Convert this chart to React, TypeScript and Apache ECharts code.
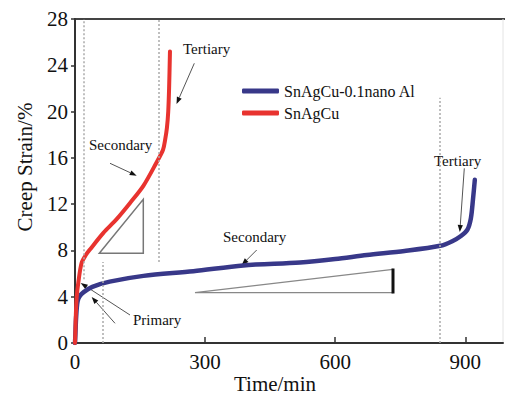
import React, { useEffect, useRef } from "react";
import * as echarts from "echarts";

const seriesNames = ["SnAgCu-0.1nano Al", "SnAgCu"];
const seriesColors = ["#383889", "#e8332f"];

// SnAgCu-0.1nano Al (time in min, strain in %)
const nanoAlTime = [0, 1, 2, 4, 6, 10, 20, 40, 80, 158, 273, 388, 519, 600, 673, 760, 842, 870, 890, 905, 913, 918, 922];
const nanoAlStrain = [0, 0.8, 1.8, 3.0, 3.6, 4.0, 4.4, 4.85, 5.3, 5.8, 6.2, 6.7, 6.95, 7.25, 7.6, 7.95, 8.4, 8.8, 9.25, 9.8, 10.8, 12.5, 14.1];

// SnAgCu
const snAgCuTime = [0, 1, 2, 4, 7.6, 15, 25, 35, 65, 96, 127, 158, 188, 203, 208, 212, 215, 217, 219];
const snAgCuStrain = [0, 1.2, 2.5, 4.0, 5.2, 6.9, 7.6, 8.1, 9.5, 10.7, 12.1, 13.6, 15.6, 16.7, 17.6, 18.6, 20.0, 22.0, 25.2];

const xTickValues = [0, 300, 600, 900];
const xMax = 987;
const yMax = 28;
const yInterval = 4;

// dotted guide lines
const guideX = [21, 192, 64, 842];
const guideYFrom = [5.5, 7, 0, 0];
const guideYTo = [28, 28, 7, 21.2];

const SERIF = "Liberation Serif";

function arrow(x1: number, y1: number, x2: number, y2: number) {
  const dx = x2 - x1;
  const dy = y2 - y1;
  const len = Math.sqrt(dx * dx + dy * dy);
  const ux = dx / len;
  const uy = dy / len;
  const hl = 7;
  const hw = 2.6;
  const bx = x2 - ux * hl;
  const by = y2 - uy * hl;
  return [
    { type: "line", shape: { x1, y1, x2: bx, y2: by }, style: { stroke: "#555", lineWidth: 1 }, silent: true },
    {
      type: "polygon",
      shape: { points: [[x2, y2], [bx - uy * hw, by + ux * hw], [bx + uy * hw, by - ux * hw]] },
      style: { fill: "#111" },
      silent: true,
    },
  ];
}

function label(text: string, x: number, y: number, size = 15) {
  return {
    type: "text",
    x,
    y,
    style: { text, fill: "#111", fontFamily: SERIF, fontSize: size, align: "left", verticalAlign: "middle" },
    silent: true,
  };
}

export default function App() {
  const ref = useRef<HTMLDivElement>(null);

  useEffect(() => {
    if (!ref.current) return;
    const chart = echarts.init(ref.current, null, { renderer: "svg" });

    const nanoAlData = nanoAlTime.map((t, i) => [t, nanoAlStrain[i]]);
    const snAgCuData = snAgCuTime.map((t, i) => [t, snAgCuStrain[i]]);

    const guideLines = guideX.map((x, i) => [{ coord: [x, guideYFrom[i]] }, { coord: [x, guideYTo[i]] }]);

    const graphics: any[] = [
      { type: "line", shape: { x1: 74, y1: 19, x2: 505, y2: 19 }, style: { stroke: "#444", lineWidth: 2 }, silent: true },
      { type: "line", shape: { x1: 503, y1: 19, x2: 503, y2: 343 }, style: { stroke: "#e4e4e4", lineWidth: 1 }, silent: true },
      {
        type: "text",
        x: 25,
        y: 167,
        rotation: Math.PI / 2,
        style: { text: "Creep Strain/%", fill: "#111", fontFamily: SERIF, fontSize: 21, align: "center", verticalAlign: "middle" },
        silent: true,
      },
      {
        type: "text",
        x: 275,
        y: 384,
        style: { text: "Time/min", fill: "#111", fontFamily: SERIF, fontSize: 21, align: "center", verticalAlign: "middle" },
        silent: true,
      },
      {
        type: "polygon",
        shape: { points: [[99.3, 253.3], [143.3, 253.3], [143.3, 199.3]] },
        style: { fill: "none", stroke: "#777", lineWidth: 1.5 },
        silent: true,
      },
      {
        type: "polyline",
        shape: { points: [[393, 269.3], [195, 292.7], [393, 292.7]] },
        style: { fill: "none", stroke: "#888", lineWidth: 1.2 },
        silent: true,
      },
      { type: "line", shape: { x1: 393, y1: 268.5, x2: 393, y2: 293.5 }, style: { stroke: "#111", lineWidth: 3 }, silent: true },
      label("Tertiary", 183, 49),
      label("Secondary", 89, 145),
      label("Secondary", 223, 237),
      label("Tertiary", 434, 161),
      label("Primary", 133, 320),
      ...arrow(194.3, 63.3, 176.5, 104),
      ...arrow(110, 163.3, 136.7, 175.7),
      ...arrow(256.7, 250, 241.7, 265),
      ...arrow(464.3, 168.3, 459.8, 232),
      ...arrow(130, 315, 80.7, 283),
      ...arrow(115, 323.3, 91.7, 297),
    ];

    chart.setOption({
      animation: false,
      backgroundColor: "#fff",
      grid: { left: 75, right: 2, top: 19, bottom: 53, containLabel: false },
      legend: {
        orient: "vertical",
        left: 237,
        top: 78,
        icon: "roundRect",
        itemWidth: 37,
        itemHeight: 5,
        itemGap: 6,
        textStyle: { fontFamily: SERIF, fontSize: 16, color: "#111" },
        data: seriesNames,
      },
      xAxis: {
        type: "value",
        min: 0,
        max: xMax,
        interval: 300,
        splitLine: { show: false },
        axisLine: { show: true, lineStyle: { color: "#333", width: 2 } },
        axisTick: { show: true, inside: true, length: 6, customValues: xTickValues, lineStyle: { color: "#333", width: 1.5 } },
        axisLabel: { customValues: xTickValues, margin: 8, fontFamily: SERIF, fontSize: 21, color: "#111" },
      },
      yAxis: {
        type: "value",
        min: 0,
        max: yMax,
        interval: yInterval,
        splitLine: { show: false },
        axisLine: { show: true, lineStyle: { color: "#333", width: 2 } },
        axisTick: { show: true, inside: false, length: 4, lineStyle: { color: "#333", width: 1.5 } },
        axisLabel: { margin: 7, fontFamily: SERIF, fontSize: 21, color: "#111" },
      },
      series: [
        {
          name: seriesNames[0],
          type: "line",
          data: nanoAlData,
          showSymbol: false,
          smooth: 0.3,
          z: 3,
          color: seriesColors[0],
          lineStyle: { color: seriesColors[0], width: 4.5, cap: "round", join: "round" },
        },
        {
          name: seriesNames[1],
          type: "line",
          data: snAgCuData,
          showSymbol: false,
          smooth: 0.3,
          z: 4,
          color: seriesColors[1],
          lineStyle: { color: seriesColors[1], width: 4, cap: "round", join: "round" },
        },
        {
          name: "guides",
          type: "line",
          data: [],
          silent: true,
          markLine: {
            silent: true,
            symbol: ["none", "none"],
            label: { show: false },
            lineStyle: { color: "#aaa", width: 1.5, type: [2, 2] },
            data: guideLines,
          },
        },
      ],
      graphic: graphics,
    });

    return () => chart.dispose();
  }, []);

  return <div ref={ref} style={{ width: 505, height: 396, position: "absolute", left: 0, top: 0 }} />;
}
